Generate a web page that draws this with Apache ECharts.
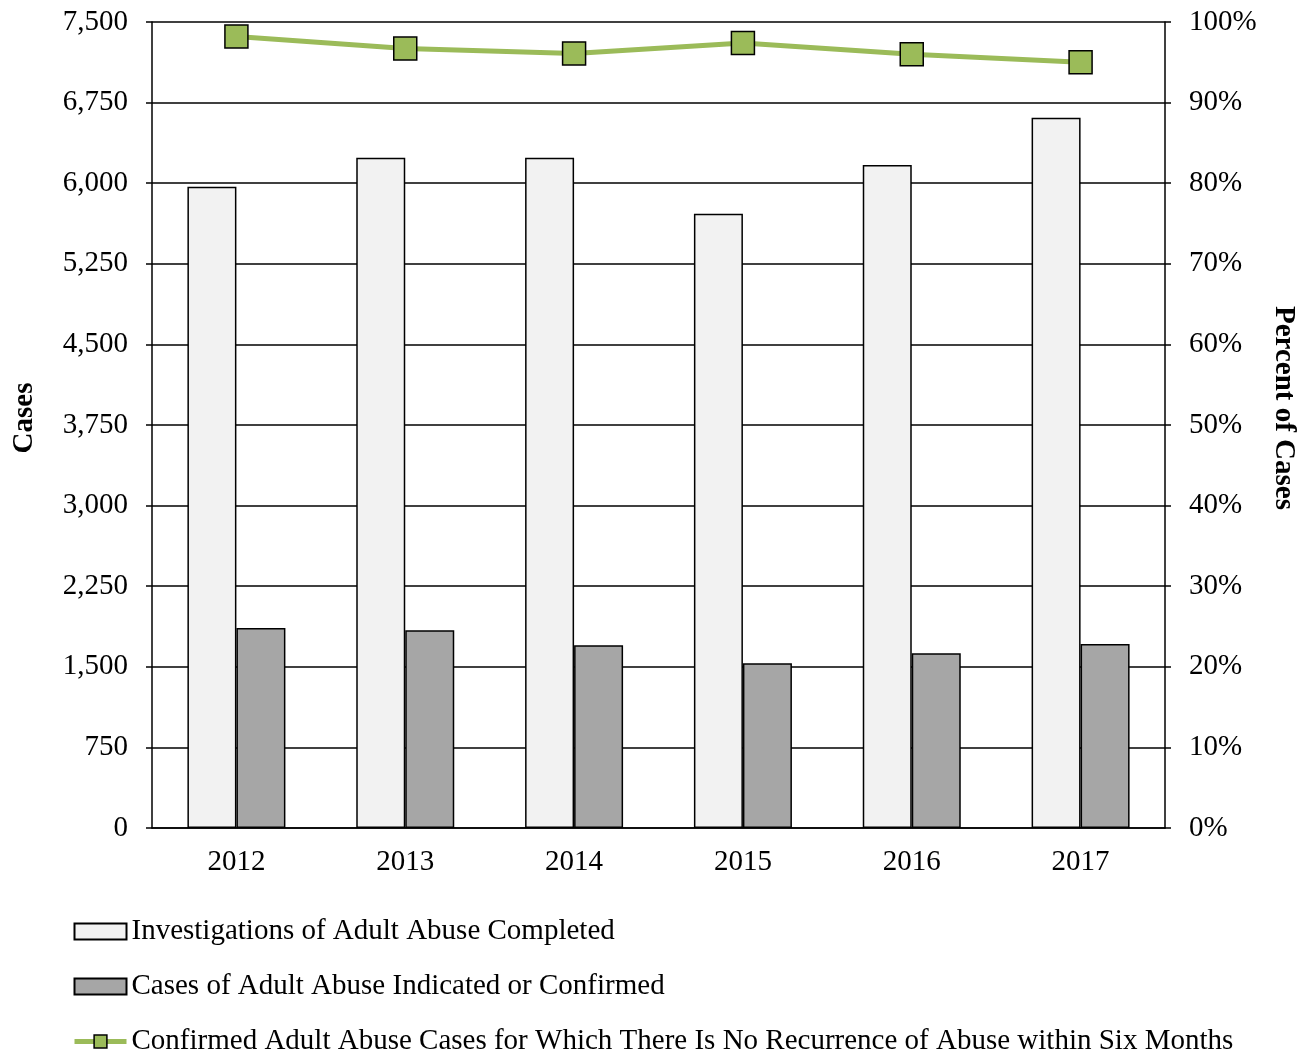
<!DOCTYPE html>
<html>
<head>
<meta charset="utf-8">
<script src="https://cdn.jsdelivr.net/npm/echarts@6/dist/echarts.min.js"></script>
<style>
  html, body { margin: 0; padding: 0; background: #fff; }
  #chart { width: 1310px; height: 1053px; }
</style>
</head>
<body>
<div id="chart"></div>
<script>
// Fiscal years shown on the x axis
const years = ['2012', '2013', '2014', '2015', '2016', '2017'];

// Case counts (left axis)
const investigationsCompleted = [5967, 6237, 6237, 5716, 6169, 6609];
const casesConfirmed = [1861, 1839, 1700, 1532, 1625, 1712];

// Share of confirmed cases with no recurrence within six months (right axis, %)
const noRecurrencePct = [98.2, 96.7, 96.1, 97.4, 96.0, 95.0];

// Axis tick setup
const casesTicks = { min: 0, max: 7500, interval: 750 };
const pctTicks = { min: 0, max: 100, interval: 10 };

const seriesNames = [
  'Investigations of Adult Abuse Completed',
  'Cases of Adult Abuse Indicated or Confirmed',
  'Confirmed Adult Abuse Cases for Which There Is No Recurrence of Abuse within Six Months'
];

const FONT = '"Liberation Serif", "Times New Roman", serif';
const FS = 29;
const GREEN = '#9BBB59';
const chart = echarts.init(document.getElementById('chart'), null, { renderer: 'canvas' });

chart.setOption({
  animation: false,
  backgroundColor: '#ffffff',
  textStyle: { fontFamily: FONT, color: '#000' },
  grid: { left: 152, right: 145, top: 22, bottom: 225, containLabel: false },
  legend: {
    orient: 'vertical',
    left: 72,
    top: 917,
    height: 300,
    padding: 0,
    itemWidth: 52,
    itemHeight: 16,
    itemGap: 26,
    textStyle: { fontFamily: FONT, fontSize: FS, color: '#000' },
    data: [
      { name: seriesNames[0], icon: 'rect' },
      { name: seriesNames[1], icon: 'rect' },
      {
        name: seriesNames[2],
        lineStyle: { color: GREEN, width: 5 },
        itemStyle: { color: GREEN, borderColor: '#000', borderWidth: 1.5 }
      }
    ]
  },
  xAxis: {
    type: 'category',
    data: years,
    axisLine: { show: true, onZero: false, lineStyle: { color: '#000', width: 1.5 } },
    axisTick: { show: false },
    axisLabel: { fontFamily: FONT, fontSize: FS, color: '#000', margin: 20 },
    splitLine: { show: false }
  },
  yAxis: [
    {
      type: 'value',
      min: casesTicks.min,
      max: casesTicks.max,
      interval: casesTicks.interval,
      name: 'Cases',
      nameLocation: 'middle',
      nameGap: 113,
      nameTextStyle: { fontFamily: FONT, fontSize: FS, fontWeight: 'bold', color: '#000', padding: [0, 0, 0, 14] },
      axisLine: { show: true, lineStyle: { color: '#000', width: 1.5 } },
      axisTick: { show: true, length: 6, lineStyle: { color: '#000', width: 1.5 } },
      axisLabel: {
        fontFamily: FONT, fontSize: FS, color: '#000', margin: 24,
        formatter: v => v.toLocaleString('en-US')
      },
      splitLine: { show: true, lineStyle: { color: '#000', width: 1.5 } }
    },
    {
      type: 'value',
      min: pctTicks.min,
      max: pctTicks.max,
      interval: pctTicks.interval,
      name: 'Percent of Cases',
      nameLocation: 'middle',
      nameRotate: -90,
      nameGap: 104,
      nameTextStyle: { fontFamily: FONT, fontSize: FS, fontWeight: 'bold', color: '#000', padding: [0, 34, 0, 0] },
      axisLine: { show: true, lineStyle: { color: '#000', width: 1.5 } },
      axisTick: { show: true, length: 6, lineStyle: { color: '#000', width: 1.5 } },
      axisLabel: {
        fontFamily: FONT, fontSize: FS, color: '#000', margin: 24,
        formatter: '{value}%'
      },
      splitLine: { show: false }
    }
  ],
  series: [
    {
      name: seriesNames[0],
      type: 'bar',
      yAxisIndex: 0,
      data: investigationsCompleted,
      barWidth: 49,
      barGap: '0%',
      itemStyle: { color: '#F2F2F2', borderColor: '#000', borderWidth: 1.5 }
    },
    {
      name: seriesNames[1],
      type: 'bar',
      yAxisIndex: 0,
      data: casesConfirmed,
      barWidth: 49,
      barGap: '0%',
      itemStyle: { color: '#A6A6A6', borderColor: '#000', borderWidth: 1.5 }
    },
    {
      name: seriesNames[2],
      type: 'line',
      yAxisIndex: 1,
      data: noRecurrencePct,
      symbol: 'rect',
      symbolSize: 23,
      lineStyle: { color: GREEN, width: 5 },
      itemStyle: { color: GREEN, borderColor: '#000', borderWidth: 1.5 },
      z: 5
    }
  ]
});
</script>
</body>
</html>
